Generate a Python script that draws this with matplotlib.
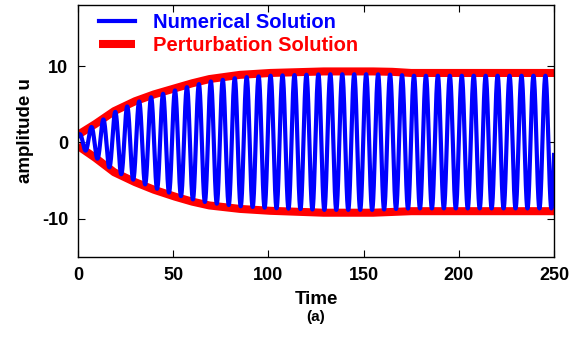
import numpy as np
import matplotlib
matplotlib.use('Agg')
import matplotlib.pyplot as plt

# ── Data ───────────────────────────────────────────────────────────────────────
# envelope of the perturbation solution (upper / lower branch)
t_env     = [0, 9, 19, 30, 40, 51, 60, 69, 85, 101, 129, 155, 165, 175, 200, 250]
env_upper = [1.0, 2.4, 4.1, 5.4, 6.3, 7.1, 7.75, 8.3, 8.85, 9.1, 9.3, 9.3, 9.25, 9.1, 9.1, 9.1]
env_lower = [-0.45, -2.0, -3.9, -5.2, -6.2, -7.1, -7.75, -8.25, -8.7, -8.95, -9.2, -9.2, -9.1, -9.0, -9.0, -9.0]

# oscillation of the numerical solution
peak_time = 7.0      # first crest
period    = 6.276    # crest-to-crest spacing

x_ticks = [0, 50, 100, 150, 200, 250]
y_ticks = [-10, 0, 10]

# ── Curves ─────────────────────────────────────────────────────────────────────
t = np.linspace(0, 250, 6000)
up = np.interp(t, t_env, env_upper)
lo = np.interp(t, t_env, env_lower)
mid  = 0.5 * (up + lo)
half = 0.5 * (up - lo) * 0.96
u_num = mid + half * np.cos(2 * np.pi * (t - peak_time) / period)

# ── Plot ───────────────────────────────────────────────────────────────────────
plt.rcParams['font.family'] = ['Liberation Sans', 'DejaVu Sans']
plt.rcParams['font.weight'] = 'bold'
plt.rcParams['axes.unicode_minus'] = False

fig = plt.figure(figsize=(5.82, 3.43), dpi=100)
ax = fig.add_axes([78 / 582, 1 - 257 / 343, (554 - 78) / 582, (257 - 5) / 343])

ax.plot(t, u_num, color='#0000ff', lw=3.0, label='Numerical Solution', zorder=2)
ax.plot(t_env, env_upper, color='#ff0000', lw=5.8, solid_capstyle='butt',
        label='Perturbation Solution', zorder=1)
ax.plot(t_env, env_lower, color='#ff0000', lw=5.8, solid_capstyle='butt', zorder=1)

ax.set_xlim(0, 250)
ax.set_ylim(-15, 18)
ax.set_xticks(x_ticks)
ax.set_yticks(y_ticks)
ax.tick_params(direction='in', length=5, width=0.8, top=True, right=True,
               labelsize=13, pad=7)
for lab in ax.get_xticklabels() + ax.get_yticklabels():
    lab.set_fontweight('bold')
for sp in ax.spines.values():
    sp.set_linewidth(1.0)

ax.set_xlabel('Time', fontsize=13.5, fontweight='bold', labelpad=5)
ax.set_ylabel('amplitude u', fontsize=13.5, fontweight='bold', labelpad=6)
fig.text(0.5 * (78 + 554) / 582, 1 - 317 / 343, '(a)', fontsize=11,
         fontweight='bold', ha='center', va='center')

ax.legend(loc='upper left', bbox_to_anchor=(0.005, 1.04), frameon=False,
          prop={'weight': 'bold', 'size': 14.5}, labelcolor='linecolor',
          handlelength=1.8, handletextpad=0.9, labelspacing=0.2)

fig.savefig('out.png', dpi=100)
